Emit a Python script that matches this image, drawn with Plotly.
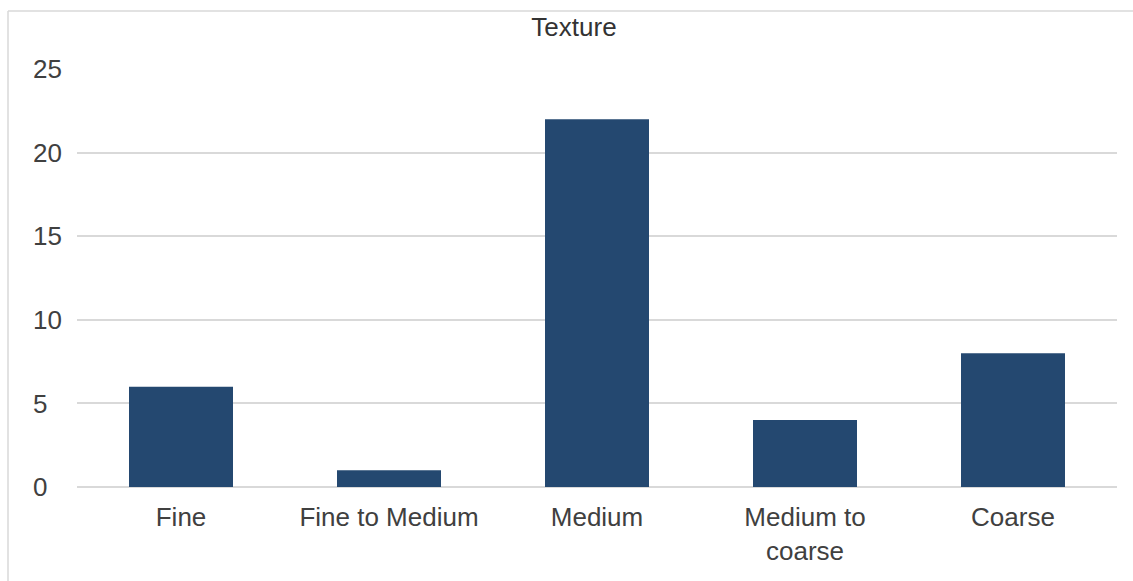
import plotly.graph_objects as go

categories = ["Fine", "Fine to Medium", "Medium", "Medium to<br>coarse", "Coarse"]
values = [6, 1, 22, 4, 8]
y_tickvals = [0, 5, 10, 15, 20, 25]
y_ticktext = ["0\u00a0\u00a0", "5\u00a0\u00a0", "10", "15", "20", "25"]
title_text = "Texture"

W, H = 1133, 581
L, R, T, B = 77, 16, 69, 94
pw, ph = W - L - R, H - T - B

def px_to_paper_x(px):
    return (px - L) / pw

def px_to_paper_y(py):
    return (H - B - py) / ph

fig = go.Figure(go.Bar(
    x=categories, y=values,
    marker=dict(color="#244870", line=dict(width=0)),
    hoverinfo="x+y",
))

fig.update_layout(
    width=W, height=H,
    margin=dict(l=L, r=R, t=T, b=B, pad=0),
    paper_bgcolor="white", plot_bgcolor="white",
    bargap=0.5,
    showlegend=False,
    font=dict(family="Liberation Sans, Arial, sans-serif", size=26, color="#404040"),
    title=dict(text=title_text, x=574 / W, xref="container", xanchor="center",
               y=1 - 27 / H, yref="container", yanchor="middle",
               font=dict(size=26, color="#333333")),
    xaxis=dict(showgrid=False, showline=False, zeroline=False, ticks="",
               tickfont=dict(size=26, color="#404040"), ticklabelstandoff=12),
    yaxis=dict(range=[0, 25], tickvals=y_tickvals, ticktext=y_ticktext,
               showgrid=True, gridcolor="#d9d9d9", gridwidth=1.5,
               zeroline=True, zerolinecolor="#d9d9d9", zerolinewidth=1.5,
               showline=False, ticks="", ticklabelstandoff=14,
               tickfont=dict(size=26, color="#404040")),
    shapes=[
        dict(type="line", xref="paper", yref="paper",
             x0=px_to_paper_x(8), x1=px_to_paper_x(1140),
             y0=px_to_paper_y(11), y1=px_to_paper_y(11),
             line=dict(color="#d9d9d9", width=1.5)),
        dict(type="line", xref="paper", yref="paper",
             x0=px_to_paper_x(8), x1=px_to_paper_x(8),
             y0=px_to_paper_y(11), y1=px_to_paper_y(600),
             line=dict(color="#d9d9d9", width=1.5)),
    ],
)

fig.write_html("out.html")
